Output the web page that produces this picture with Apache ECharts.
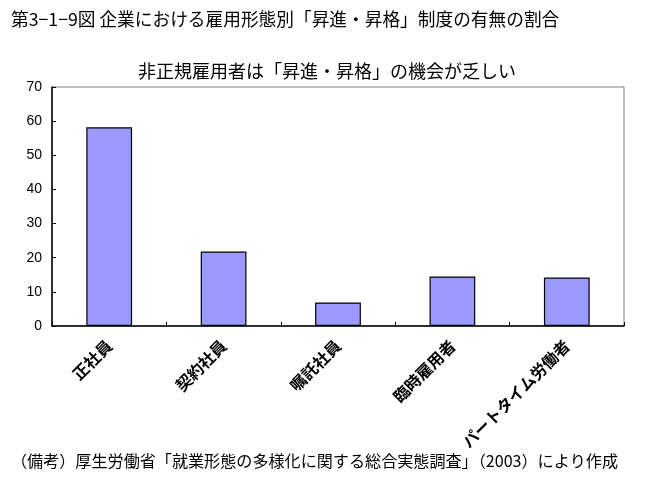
<!DOCTYPE html>
<html><head><meta charset="utf-8">
<script src="https://cdn.jsdelivr.net/npm/echarts@6/dist/echarts.min.js"></script>
<style>html,body{margin:0;padding:0;background:#fff}#c{width:654px;height:498px}</style>
</head><body><div id="c"></div>
<script>
const categories = ['正社員', '契約社員', '嘱託社員', '臨時雇用者', 'パートタイム労働者'];
const values = [58.2, 21.8, 6.9, 14.5, 14.2];
const yTicks = [0, 10, 20, 30, 40, 50, 60, 70];
const titleText = '第3−1−9図 企業における雇用形態別「昇進・昇格」制度の有無の割合';
const subtitleText = '非正規雇用者は「昇進・昇格」の機会が乏しい';
const noteText = '（備考）厚生労働省「就業形態の多様化に関する総合実態調査」（2003）により作成';

const jp = '"Noto Sans CJK JP", sans-serif';
const chart = echarts.init(document.getElementById('c'), null, {renderer: 'canvas'});
chart.setOption({
  backgroundColor: '#fff',
  animation: false,
  title: [
    {text: titleText, left: 6, top: 5, textStyle: {fontFamily: jp, fontSize: 17.7, fontWeight: 'normal', color: '#000'}},
    {text: subtitleText, left: 'center', top: 57, textStyle: {fontFamily: jp, fontSize: 18, fontWeight: 'normal', color: '#000'}},
    {text: noteText, left: 6, top: 448, textStyle: {fontFamily: jp, fontSize: 16.1, fontWeight: 'normal', color: '#000'}}
  ],
  grid: {left: 52, right: 30, top: 87, bottom: 172, show: true, borderColor: '#808080', borderWidth: 1, backgroundColor: '#fff'},
  xAxis: {
    type: 'category', data: categories,
    axisLine: {lineStyle: {color: '#000', width: 1.5}},
    axisTick: {show: true, inside: true, length: 4, lineStyle: {color: '#000'}},
    axisLabel: {rotate: 45, margin: 17, interval: 0, fontFamily: jp, fontSize: 16, fontWeight: 'bold', color: '#000'}
  },
  yAxis: {
    type: 'value', min: yTicks[0], max: yTicks[yTicks.length - 1], interval: 10,
    splitLine: {show: false},
    axisLine: {show: true, lineStyle: {color: '#000', width: 1.5}},
    axisTick: {show: true, inside: true, length: 4, lineStyle: {color: '#000'}},
    axisLabel: {margin: 10, fontFamily: '"Liberation Sans", Arial, sans-serif', fontSize: 14, color: '#000'}
  },
  series: [{
    type: 'bar', data: values, barWidth: '40%',
    itemStyle: {color: '#9999FF', borderColor: '#000', borderWidth: 1.2}
  }]
});
</script></body></html>
